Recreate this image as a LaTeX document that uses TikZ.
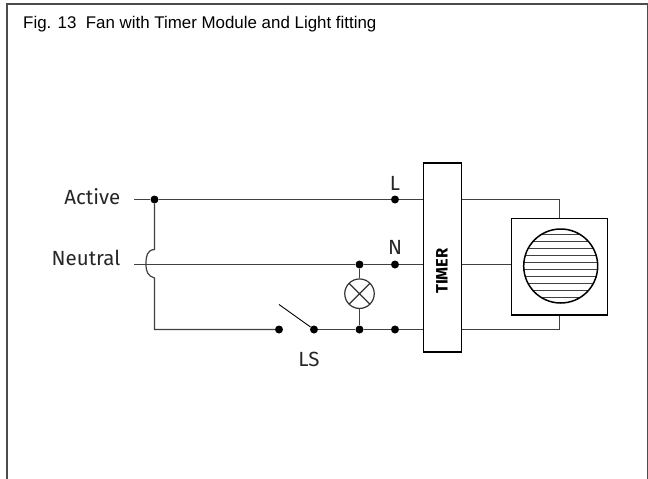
\documentclass[tikz,border=0pt]{standalone}
\usepackage{fontspec}
\setmainfont{Liberation Sans}
\newfontfamily\labelfont{Fira Sans}
\begin{document}
\begin{tikzpicture}
[
x=1pt,y=-1pt,
wire/.style={draw,line width=1.2pt,color=black!75},
terminal/.style={draw=none,fill=black,circle,inner sep=0pt,minimum size=8pt},
tag/.style={inner sep=0pt,font=\labelfont\fontsize{20.5}{22}\selectfont,color=black!85},
box/.style={draw,line width=1.2pt,inner sep=0pt},
]
\useasboundingbox (0,0) rectangle (648,479);

%Place the frame and title
\draw[line width=1.1pt,color=black!70] (7,479) -- (7,4) -- (647.5,4) -- (647.5,479);
\node[anchor=west,inner sep=0pt,font=\fontsize{16.9}{18}\selectfont] (title) at (23,24) {Fig. 13\ \ Fan with Timer Module and Light fitting};

%Place the nodes
\node[box,minimum width=37.5pt,minimum height=189pt] (timer) at (442.5,257.5) {};
\node[inner sep=0pt,rotate=90,font=\labelfont\bfseries\fontsize{16.5}{18}\selectfont] (timertext) at (442,271) {TIMER};
\node[box,line width=1.5pt,minimum width=96pt,minimum height=96.5pt] (fanbox) at (559.7,266.5) {};
\node[box,circle,line width=1.5pt,minimum size=74pt,
      path picture={\foreach \y in {-31.5,-24.5,...,32}{\draw[line width=1.2pt,color=black!75] (-40,\y) -- (40,\y);}}] (fan) at (560.7,266) {};
\node[box,circle,minimum size=29.5pt,color=black!80,
      path picture={\draw[line width=1.2pt] (path picture bounding box.south west) -- (path picture bounding box.north east)
                    (path picture bounding box.north west) -- (path picture bounding box.south east);}] (lamp) at (359.5,293.7) {};

\node[terminal] (act) at (154.5,199.5) {};
\node[terminal] (l) at (395,199.5) {};
\node[terminal] (n) at (395,264.5) {};
\node[terminal] (ntop) at (359.5,264.5) {};
\node[terminal] (lbot) at (359.5,329.5) {};
\node[terminal] (sbot) at (395,329.5) {};
\node[terminal] (swa) at (279,329.5) {};
\node[terminal] (swb) at (314,329.5) {};

\coordinate (actin) at (134,199.5);
\coordinate (neuin) at (134,264.5);
\coordinate (hopa) at (154.5,249.5);
\coordinate (hopb) at (154.5,278);
\coordinate (corner) at (154.5,329.5);
\coordinate (blade) at (279,304.5);
\coordinate (fanl) at (559.5,199.5);
\coordinate (fanr) at (559.5,329.5);

%Place the labels
\node[tag,anchor=east] (active) at (120.5,196.5) {Active};
\node[tag,anchor=east] (neutral) at (120.5,257.5) {Neutral};
\node[tag] (ltext) at (395,183) {L};
\node[tag] (ntext) at (395,247) {N};
\node[tag] (lstext) at (309,359.5) {LS};

%Draw the connections
\draw[wire] (actin) -- (act) -- (l) -- (l -| timer.west);
\draw[wire] (neuin) -- (ntop) -- (n) -- (n -| timer.west);
\draw[wire] (act) -- (hopa) .. controls (147,250) and (146,256) .. (146,264) .. controls (146,272) and (148,276) .. (hopb) -- (corner) -- (swa);
\draw[wire] (swb) -- (lbot) -- (sbot) -- (sbot -| timer.west);
\draw[line width=0.9pt] (blade) -- (swb);
\draw[wire] (ntop) -- (lamp);
\draw[wire] (lamp) -- (lbot);
\draw[wire] (l -| timer.east) -- (fanl) -- (fanl |- fanbox.north);
\draw[wire] (n -| timer.east) -- (n -| fanbox.west);
\draw[wire] (sbot -| timer.east) -- (fanr) -- (fanr |- fanbox.south);
\end{tikzpicture}
\end{document}
